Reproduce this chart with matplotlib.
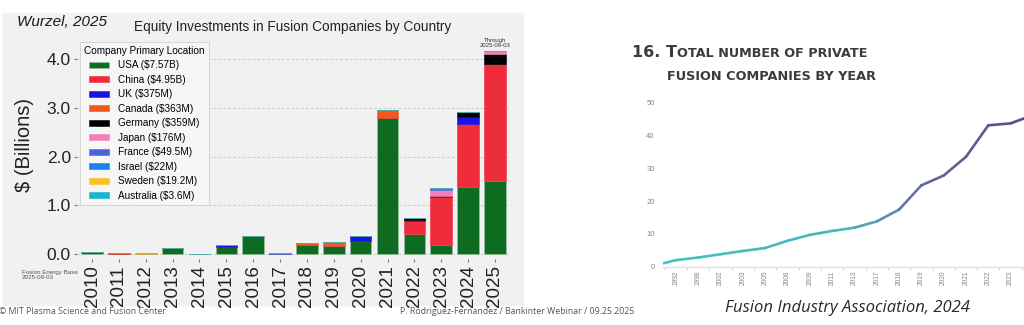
import numpy as np
import matplotlib
matplotlib.use("Agg")
import matplotlib.pyplot as plt
from matplotlib.collections import LineCollection
from matplotlib.colors import LinearSegmentedColormap
from matplotlib.patches import Rectangle
from matplotlib.transforms import IdentityTransform

plt.rcParams["font.family"] = ["Liberation Sans", "DejaVu Sans"]

# ---- equity investments by country (billions of $) ----
years = [str(y) for y in range(2010, 2026)]
usa = [0.045, 0, 0, 0.13, 0, 0.14, 0.38, 0, 0.18, 0.17, 0.26, 2.80, 0.42, 0.18, 1.37, 1.49]
china = [0, 0, 0, 0, 0, 0, 0, 0, 0, 0, 0, 0, 0.25, 0.99, 1.30, 2.41]
uk = [0, 0, 0, 0, 0, 0.05, 0, 0, 0, 0, 0.12, 0, 0.03, 0.03, 0.145, 0]
canada = [0, 0.03, 0, 0, 0, 0, 0, 0, 0.055, 0.075, 0, 0.15, 0, 0, 0, 0]
germany = [0, 0, 0, 0, 0, 0, 0, 0, 0, 0, 0, 0, 0.05, 0, 0.10, 0.21]
japan = [0, 0, 0, 0, 0, 0, 0, 0, 0, 0, 0, 0, 0, 0.11, 0, 0.066]
france = [0, 0, 0, 0, 0, 0, 0, 0.02, 0, 0, 0, 0, 0, 0.03, 0, 0]
israel = [0, 0, 0, 0, 0, 0, 0, 0, 0, 0, 0, 0, 0, 0.022, 0, 0]
sweden = [0, 0, 0.0192, 0, 0, 0, 0, 0, 0, 0, 0, 0, 0, 0, 0, 0]
australia = [0, 0, 0.0036, 0, 0, 0, 0, 0, 0, 0, 0, 0, 0, 0, 0, 0]

countries = ["USA ($7.57B)", "China ($4.95B)", "UK ($375M)", "Canada ($363M)",
             "Germany ($359M)", "Japan ($176M)", "France ($49.5M)", "Israel ($22M)",
             "Sweden ($19.2M)", "Australia ($3.6M)"]
country_values = [usa, china, uk, canada, germany, japan, france, israel, sweden, australia]
country_colors = ["#0d6b22", "#ee2c3c", "#1a12e6", "#f4581e", "#000000",
                  "#f47fb8", "#4466dd", "#1a80f0", "#fbbf24", "#1ab4cc"]

# ---- private fusion companies (FIA) ----
fia_years = ["1992", "1998", "2002", "2003", "2005", "2008", "2009", "2011", "2013",
             "2017", "2018", "2019", "2020", "2021", "2022", "2023", "2024"]
fia_counts = [2.0, 2.8, 3.8, 4.8, 5.7, 7.9, 9.7, 10.9, 11.9, 13.8, 17.4, 24.8,
              27.8, 33.5, 43.1, 43.7, 46.2]
fia_start = 1.0

W, H = 1024, 325
fig = plt.figure(figsize=(W / 100, H / 100), dpi=100, facecolor="white")


def fx(x):
    return x / W


def fy(y):
    return 1 - y / H


bg = "#f1f1f1"
fig.patches.append(Rectangle((fx(3), fy(305)), fx(520), (305 - 13) / H,
                             transform=fig.transFigure, color=bg, zorder=-5))

# ---------------- left: stacked bars ----------------
ax = fig.add_axes([fx(77), fy(259), fx(433), 219.4 / H])
ax.set_facecolor(bg)
x = np.arange(len(years))
bottom = np.zeros(len(years))
for label, vals, col in zip(countries, country_values, country_colors):
    vals = np.array(vals)
    ax.bar(x, vals, 0.8, bottom=bottom, color=col, label=label,
           edgecolor="#9fc29f" if col == "#0d6b22" else col, linewidth=0.4, zorder=3)
    bottom += vals

ax.set_yticks([0, 1, 2, 3, 4])
ax.set_yticklabels(["0.0", "1.0", "2.0", "3.0", "4.0"], fontsize=12.5, color="#222222")
ax.set_xticks(x)
ax.set_xticklabels(years, rotation=90, fontsize=13.5, color="#222222")
ax.set_xlim(-0.56, 15.56)
ax.set_ylim(-0.1, 4.4)
ax.tick_params(axis="both", length=2.5, width=0.8, color="#777777", pad=2)
ax.grid(axis="y", color="#cccccc", linestyle=(0, (3, 2)), linewidth=0.7, zorder=0)
for s in ax.spines.values():
    s.set_visible(False)
ax.set_ylabel("$ (Billions)", fontsize=14.5, color="#222222")
ax.yaxis.set_label_coords(-0.1, 0.52)

ax.annotate("Through\n2025-09-03", (x[-1], bottom[-1]), xytext=(0, 2),
            textcoords="offset points", ha="center", va="bottom",
            fontsize=4.3, color="#333333", linespacing=0.9)

leg = ax.legend(title="Company Primary Location", loc="upper left",
                bbox_to_anchor=(0.007, 0.99), borderaxespad=0, fontsize=7.2,
                title_fontsize=7.2, frameon=True, facecolor="#f6f6f6",
                edgecolor="#d0d0d0", framealpha=1, handlelength=2.0,
                handleheight=0.55, labelspacing=0.45, borderpad=0.4,
                handletextpad=0.9, fancybox=False)
leg.get_frame().set_linewidth(0.6)
leg.set_zorder(5)

fig.text(fx(17), fy(22), "Wurzel, 2025", fontsize=11, style="italic",
         color="#1a1a1a", va="center", ha="left")
fig.text(fx(293), fy(27), "Equity Investments in Fusion Companies by Country",
         fontsize=9.8, color="#222222", ha="center", va="center")
fig.text(fx(22), fy(275), "Fusion Energy Base\n2025-09-03", fontsize=4.5,
         color="#555555", ha="left", va="center", linespacing=1.0)

fig.text(fx(-1), fy(311), "© MIT Plasma Science and Fusion Center", fontsize=6.3,
         family="Open Sans", color="#555555", ha="left", va="center")
fig.text(fx(400), fy(311), "P. Rodriguez-Fernandez / Bankinter Webinar / 09.25.2025",
         fontsize=6.3, family="Open Sans", color="#555555", ha="left", va="center")

# ---------------- right: line chart ----------------
renderer = fig.canvas.get_renderer()


def caps_line(x0, y0, parts):
    xpos = x0
    for txt, size in parts:
        t = fig.text(xpos, y0, txt, fontsize=size, fontweight="bold",
                     family="DejaVu Sans", color="#3c3c3c", va="baseline",
                     ha="left", transform=IdentityTransform())
        xpos = t.get_window_extent(renderer).x1


caps_line(632, H - 57, [("16. ", 11.5), ("T", 11.5), ("OTAL NUMBER OF PRIVATE", 9.2)])
caps_line(667, H - 80, [("FUSION COMPANIES BY YEAR", 9.3)])

ax2 = fig.add_axes([fx(663), fy(266.7), fx(361), 180.4 / H])
xi = np.concatenate([[-0.58], np.arange(len(fia_years))])
yi = np.concatenate([[fia_start], fia_counts])
pts = np.column_stack([xi, yi])
segs = np.stack([pts[:-1], pts[1:]], axis=1)
cmap = LinearSegmentedColormap.from_list(
    "fia", [(0, "#44c4c0"), (0.5, "#46b6bc"), (0.6, "#5a92b2"),
            (0.7, "#66689a"), (1, "#584a88")])
mid = (xi[:-1] + xi[1:]) / 2
lc = LineCollection(segs, colors=cmap((mid - xi[0]) / (xi[-1] - xi[0])),
                    linewidth=1.9, capstyle="round", joinstyle="round")
ax2.add_collection(lc)

ax2.set_yticks([0, 10, 20, 30, 40, 50])
ax2.tick_params(axis="y", length=0, labelsize=5.5, labelcolor="#888888", pad=6)
ax2.set_xticks(np.arange(len(fia_years)))
ax2.set_xticklabels(fia_years, rotation=90, fontsize=4.8, color="#888888")
ax2.set_xticks(np.arange(-0.5, len(fia_years)), minor=True)
ax2.tick_params(axis="x", which="major", length=0, pad=3)
ax2.tick_params(axis="x", which="minor", length=2, color="#cccccc")
ax2.set_xlim(-0.58, 15.6)
ax2.set_ylim(0, 55)
for k, s in ax2.spines.items():
    s.set_visible(k == "bottom")
ax2.spines["bottom"].set_color("#dddddd")
ax2.spines["bottom"].set_linewidth(0.8)
ax2.patch.set_alpha(0)

fig.text(fx(847), fy(308), "Fusion Industry Association, 2024", fontsize=12,
         style="italic", family="Open Sans", color="#2a2a2a", ha="center", va="center")

fig.savefig("out.png", dpi=100, facecolor="white")
